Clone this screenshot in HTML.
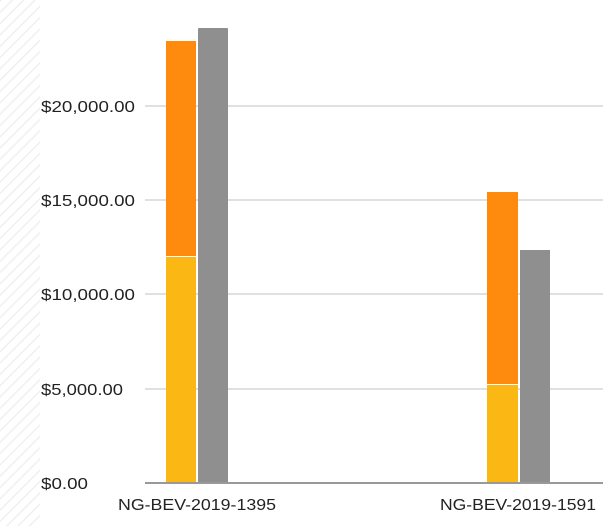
<!DOCTYPE html>
<html><head><style>
body{margin:0;background:#fff;width:603px;height:526px;overflow:hidden;font-family:"Liberation Sans",sans-serif}
</style></head><body>
<svg width="603" height="526" xmlns="http://www.w3.org/2000/svg">
<defs><pattern id="h" width="8" height="8" patternUnits="userSpaceOnUse" patternTransform="rotate(45)"><line x1="0" y1="0" x2="0" y2="8" stroke="#f0f0f0" stroke-width="3"/></pattern></defs>
<rect x="0" y="0" width="40" height="526" fill="url(#h)"/>
<g stroke="#e0e0e0" stroke-width="2">
<line x1="145" y1="106" x2="603" y2="106"/>
<line x1="145" y1="200" x2="603" y2="200"/>
<line x1="145" y1="294" x2="603" y2="294"/>
<line x1="145" y1="389" x2="603" y2="389"/>
</g>
<g font-size="16" fill="#222">
<text x="41" y="112" textLength="94" lengthAdjust="spacingAndGlyphs">$20,000.00</text>
<text x="41" y="206" textLength="94" lengthAdjust="spacingAndGlyphs">$15,000.00</text>
<text x="41" y="300" textLength="94" lengthAdjust="spacingAndGlyphs">$10,000.00</text>
<text x="41" y="395" textLength="82" lengthAdjust="spacingAndGlyphs">$5,000.00</text>
<text x="41" y="489" textLength="47" lengthAdjust="spacingAndGlyphs">$0.00</text>
</g>
<rect x="166" y="41" width="30" height="215" fill="#fe8a0e"/>
<rect x="166" y="257" width="30" height="226" fill="#fbb714"/>
<rect x="198" y="28" width="30" height="455" fill="#8f8f8f" rx="1"/>
<rect x="487" y="192" width="31" height="192" fill="#fe8a0e"/>
<rect x="487" y="385" width="31" height="98" fill="#fbb714"/>
<rect x="520" y="250" width="30" height="233" fill="#8f8f8f"/>
<line x1="145" y1="483" x2="603" y2="483" stroke="#999" stroke-width="2"/>
<g font-size="16" fill="#222">
<text x="118" y="510" textLength="158" lengthAdjust="spacingAndGlyphs">NG-BEV-2019-1395</text>
<text x="440" y="510" textLength="156" lengthAdjust="spacingAndGlyphs">NG-BEV-2019-1591</text>
</g>
</svg>
</body></html>
